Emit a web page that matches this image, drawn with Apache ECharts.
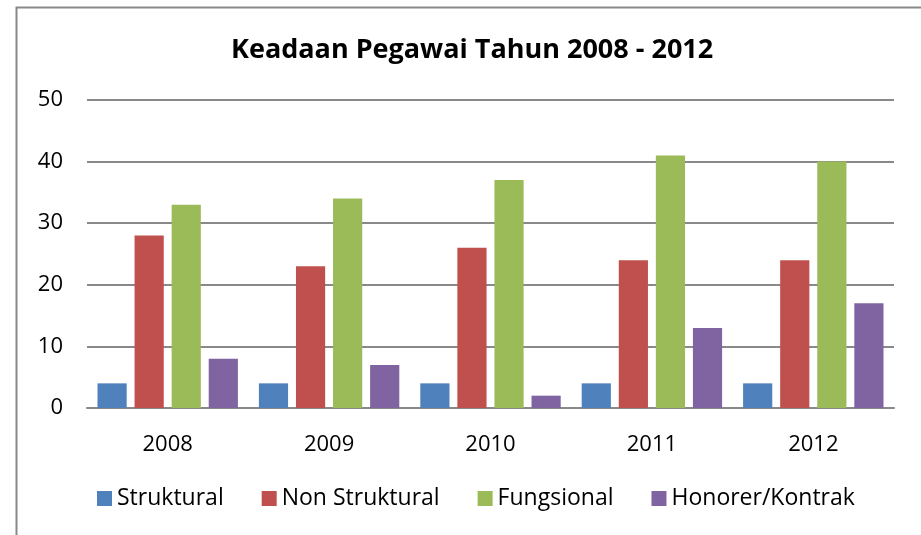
<!DOCTYPE html>
<html><head><meta charset="utf-8">
<script src="https://cdn.jsdelivr.net/npm/echarts@6/dist/echarts.min.js"></script>
<style>html,body{margin:0;padding:0;background:#fff}#c{width:921px;height:535px}</style>
</head><body><div id="c"></div>
<script>
const categories = ['2008','2009','2010','2011','2012'];
const struktural = [4,4,4,4,4];
const nonStruktural = [28,23,26,24,24];
const fungsional = [33,34,37,41,40];
const honorer = [8,7,2,13,17];
const seriesNames = ['Struktural','Non Struktural','Fungsional','Honorer/Kontrak'];
const colors = ['#4F81BD','#C0504D','#9BBB59','#8064A2'];
const font = "'Open Sans', 'Noto Sans', sans-serif";
const chart = echarts.init(document.getElementById('c'));
const values = [struktural, nonStruktural, fungsional, honorer];
chart.setOption({
  animation:false,
  color: colors,
  graphic:[{type:'rect',shape:{x:16.5,y:7.5,width:940,height:560},style:{fill:'none',stroke:'#888',lineWidth:2}}],
  title:{text:'Keadaan Pegawai Tahun 2008 - 2012',left:226,top:32,textStyle:{fontFamily:font,fontWeight:'bold',fontSize:27,color:'#000'}},
  legend:{bottom:20,left:92,itemWidth:15,itemHeight:15,itemGap:38,icon:'rect',textStyle:{fontFamily:font,fontSize:23,color:'#000'},data:seriesNames},
  grid:{left:87,right:27,top:100,bottom:127},
  xAxis:{type:'category',data:categories,axisTick:{show:false},axisLine:{lineStyle:{color:'#898989',width:2}},axisLabel:{fontFamily:font,fontSize:22,color:'#000',margin:26}},
  yAxis:{type:'value',min:0,max:50,interval:10,axisLabel:{fontFamily:font,fontSize:22,color:'#000',margin:24},splitLine:{lineStyle:{color:'#898989',width:2}},axisLine:{show:false},axisTick:{show:false}},
  series: seriesNames.map((n,i)=>({name:n,type:'bar',data:values[i],barGap:'27%',barCategoryGap:'13%'}))
});
</script></body></html>
